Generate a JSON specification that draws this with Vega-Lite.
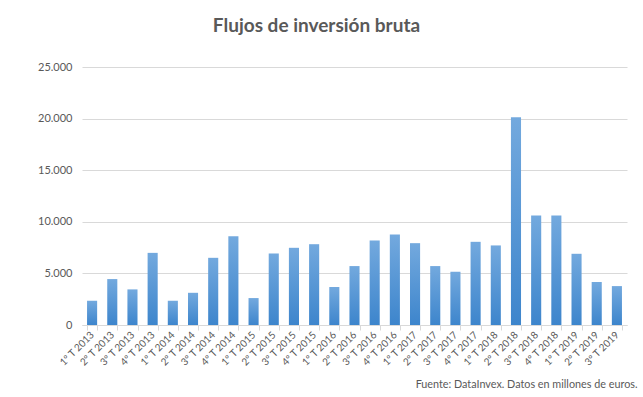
{
  "$schema": "https://vega.github.io/schema/vega-lite/v6.json",
  "autosize": {"type": "none"},
  "width": 545,
  "height": 258,
  "padding": {"left": 82, "top": 67, "right": 16, "bottom": 72},
  "background": "white",
  "title": {
    "text": "Flujos de inversión bruta",
    "font": "Lato",
    "fontSize": 19,
    "fontWeight": "bold",
    "color": "#595959",
    "anchor": "middle",
    "frame": "group",
    "dx": -38,
    "offset": 10,
    "baseline": "alphabetic"
  },
  "data": {
    "values": [
      {"t": "1º T 2013", "v": 2350},
      {"t": "2º T 2013", "v": 4450},
      {"t": "3º T 2013", "v": 3450},
      {"t": "4º T 2013", "v": 6990},
      {"t": "1º T 2014", "v": 2350},
      {"t": "2º T 2014", "v": 3120},
      {"t": "3º T 2014", "v": 6510},
      {"t": "4º T 2014", "v": 8610},
      {"t": "1º T 2015", "v": 2610},
      {"t": "2º T 2015", "v": 6930},
      {"t": "3º T 2015", "v": 7480},
      {"t": "4º T 2015", "v": 7830},
      {"t": "1º T 2016", "v": 3680},
      {"t": "2º T 2016", "v": 5710},
      {"t": "3º T 2016", "v": 8190},
      {"t": "4º T 2016", "v": 8770},
      {"t": "1º T 2017", "v": 7930},
      {"t": "2º T 2017", "v": 5710},
      {"t": "3º T 2017", "v": 5160},
      {"t": "4º T 2017", "v": 8060},
      {"t": "1º T 2018", "v": 7710},
      {"t": "2º T 2018", "v": 20120},
      {"t": "3º T 2018", "v": 10610},
      {"t": "4º T 2018", "v": 10610},
      {"t": "1º T 2019", "v": 6900},
      {"t": "2º T 2019", "v": 4160},
      {"t": "3º T 2019", "v": 3770}
    ]
  },
  "mark": {
    "type": "bar",
    "color": {
      "gradient": "linear",
      "x1": 0, "y1": 0, "x2": 0, "y2": 1,
      "stops": [
        {"offset": 0, "color": "#73a9de"},
        {"offset": 1, "color": "#3d85cc"}
      ]
    }
  },
  "encoding": {
    "x": {
      "field": "t",
      "type": "nominal",
      "sort": null,
      "scale": {"paddingInner": 0.5, "paddingOuter": 0.25},
      "axis": {
        "title": "Fuente: DataInvex. Datos en millones de euros.",
        "titleFont": "Lato",
        "titleFontSize": 10.8,
        "titleFontWeight": "normal",
        "titleColor": "#595959",
        "titleAnchor": "end",
        "titleAlign": "right",
        "titleBaseline": "alphabetic",
        "titleX": 555,
        "titleY": 62,
        "labelAngle": -45,
        "labelAlign": "right",
        "labelBaseline": "middle",
        "labelFont": "Lato",
        "labelFontSize": 10,
        "labelColor": "#595959",
        "labelPadding": 3,
        "labelOverlap": false,
        "tickBand": "extent",
        "tickColor": "#d9d9d9",
        "tickSize": 5,
        "domainColor": "#d9d9d9",
        "grid": false
      }
    },
    "y": {
      "field": "v",
      "type": "quantitative",
      "scale": {"domain": [0, 25000], "nice": false},
      "axis": {
        "title": null,
        "values": [0, 5000, 10000, 15000, 20000, 25000],
        "labelExpr": "replace(format(datum.value, ','), ',', '.')",
        "labelFont": "Lato",
        "labelFontSize": 11,
        "labelColor": "#595959",
        "labelPadding": 10,
        "ticks": false,
        "domain": false,
        "gridColor": "#d9d9d9",
        "gridWidth": 1
      }
    }
  },
  "config": {
    "view": {"stroke": null}
  }
}
